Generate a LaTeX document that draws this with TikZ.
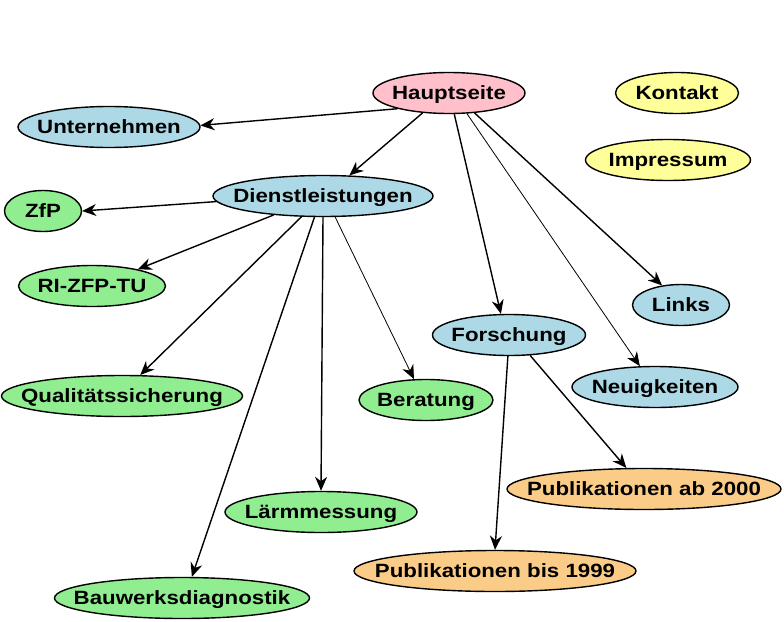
\documentclass[tikz,border=0pt]{standalone}
\usepackage{fontspec}
\setmainfont{Liberation Sans}[FakeStretch=1.16]
\usepackage{tikz}
\usetikzlibrary{arrows.meta,shapes.geometric}
\definecolor{pinkpg}{RGB}{255,192,203}
\definecolor{yellowpg}{RGB}{255,255,153}
\definecolor{bluepg}{RGB}{173,216,230}
\definecolor{greenpg}{RGB}{144,238,144}
\definecolor{orangepg}{RGB}{250,204,136}
\tikzset{
  page/.style={ellipse,draw=black,line width=1.4pt,inner sep=0pt,minimum height=41pt,
    text height=12.5pt,text depth=0.5pt,font=\fontsize{19.2}{21}\selectfont\bfseries},
  top/.style={page,fill=pinkpg},      % start page
  extra/.style={page,fill=yellowpg},  % not linked
  sect/.style={page,fill=bluepg},     % main section
  serv/.style={page,fill=greenpg},    % service page
  pub/.style={page,fill=orangepg},    % publication list
  link/.style={-{Stealth[length=14pt,width=12pt,inset=4.5pt]},line width=1.4pt},
  thinlink/.style={link,line width=0.8pt},
}
\newcommand{\pg}[1]{\makebox[0pt]{#1}}

\begin{document}
\begin{tikzpicture}[x=1pt,y=-1pt]
  \useasboundingbox (0,0) rectangle (784,621);
  % pages
  \node[top,minimum width=152pt] (haupt) at (449,93) {\pg{Hauptseite}};
  \node[extra,minimum width=123pt] (kontakt) at (677,93) {\pg{Kontakt}};
  \node[extra,minimum width=165pt] (impressum) at (668,160) {\pg{Impressum}};
  \node[sect,minimum width=182pt] (unternehmen) at (109,127) {\pg{Unternehmen}};
  \node[sect,minimum width=220pt] (dienst) at (323,196) {\pg{Dienstleistungen}};
  \node[sect,minimum width=97pt] (links) at (681,305) {\pg{Links}};
  \node[sect,minimum width=153pt] (forschung) at (509,335) {\pg{Forschung}};
  \node[sect,minimum width=166pt] (news) at (655,387) {\pg{Neuigkeiten}};
  \node[serv,minimum width=77pt] (zfp) at (43,211) {\pg{ZfP}};
  \node[serv,minimum width=147pt] (rizfp) at (92,286) {\pg{RI-ZFP-TU}};
  \node[serv,minimum width=241pt] (quali) at (122,396) {\pg{Qualitätssicherung}};
  \node[serv,minimum width=134pt] (beratung) at (426,400) {\pg{Beratung}};
  \node[serv,minimum width=192pt] (laerm) at (321,512) {\pg{Lärmmessung}};
  \node[serv,minimum width=255pt] (bau) at (182,598) {\pg{Bauwerksdiagnostik}};
  \node[pub,minimum width=274pt] (pubab) at (644,489) {\pg{Publikationen ab 2000}};
  \node[pub,minimum width=282pt] (pubbis) at (495,571) {\pg{Publikationen bis 1999}};
  % links from start page
  \draw[link] (haupt.197) -- (unternehmen.1);
  \draw[link] (haupt.217) -- (dienst.38);
  \draw[link] (haupt.284) -- (forschung.111);
  \draw[thinlink] (haupt.311) -- (news.126);
  \draw[link] (haupt.322) -- (links.134);
  % services
  \draw[link] (dienst.183) -- (zfp.east);
  \draw[link] (dienst.201) -- (rizfp.20);
  \draw[link] (dienst.224) -- (quali.49);
  \draw[link] (dienst.248) -- (bau.65);
  \draw[link] (dienst.south) -- (laerm.north);
  \draw[thinlink] (dienst.300) -- (beratung.120);
  % research
  \draw[link] (forschung.267) -- (pubbis.north);
  \draw[link] (forschung.316) -- (pubab.130);
\end{tikzpicture}
\end{document}
